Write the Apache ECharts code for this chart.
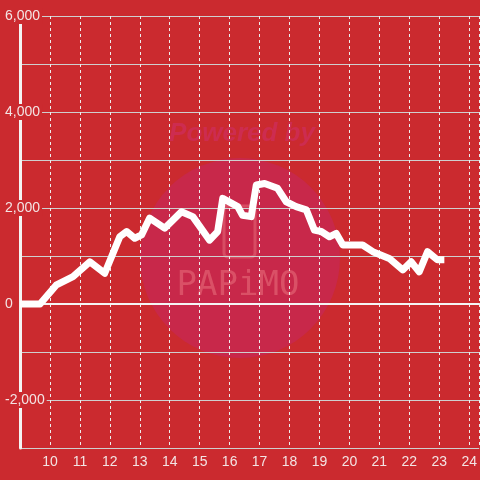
<!DOCTYPE html>
<html><head><meta charset="utf-8">
<script src="https://cdn.jsdelivr.net/npm/echarts@6/dist/echarts.min.js"></script>
<style>html,body{margin:0;padding:0;background:#cb2a2f}#c{width:480px;height:480px}</style>
</head><body><div id="c"></div>
<script>
const times = [9.0, 9.67, 10.22, 10.77, 11.33, 11.83, 12.33, 12.56, 12.83, 13.06, 13.33, 13.83, 14.39, 14.77, 15.33, 15.6, 15.77, 16.27, 16.43, 16.72, 16.89, 17.17, 17.6, 17.89, 18.22, 18.56, 18.83, 19.06, 19.33, 19.56, 19.78, 20.44, 20.78, 21.33, 21.78, 22.06, 22.33, 22.61, 22.94, 23.17];
const values = [0, 0, 400, 570, 880, 640, 1400, 1510, 1370, 1440, 1790, 1580, 1920, 1820, 1330, 1510, 2200, 2030, 1850, 1820, 2480, 2510, 2410, 2130, 2030, 1960, 1540, 1510, 1400, 1470, 1230, 1230, 1090, 950, 710, 880, 670, 1090, 920, 920];
const yTickLabels = {6000:'6,000', 4000:'4,000', 2000:'2,000', 0:'0', '-2000':'-2,000'};

const bg = '#cb2a2f';
const txt = '#f3e4e4';
const chart = echarts.init(document.getElementById('c'));
chart.setOption({
  backgroundColor: bg,
  animation: false,
  grid: {left: 20, right: 0, top: 16, bottom: 32},
  xAxis: {
    type: 'value', min: 9, max: 9 + 460/30, interval: 1,
    axisLine: {onZero: true, lineStyle: {color: '#f4f4f4', width: 2}},
    axisTick: {show: false},
    axisLabel: {
      showMinLabel: false, showMaxLabel: false,
      color: txt, fontSize: 14, fontFamily: 'Liberation Sans, Arial, sans-serif', margin: 7,
      formatter: v => (Math.abs(v - Math.round(v)) < 1e-6 && v > 9) ? String(Math.round(v)) : ''
    },
    splitLine: {show: true, lineStyle: {color: '#eeeeee', width: 1, type: [3, 3]}}
  },
  yAxis: {
    type: 'value', min: -3000, max: 6000, interval: 1000,
    axisLine: {show: true, onZero: false, lineStyle: {color: '#f4f4f4', width: 3}},
    axisTick: {show: false},
    axisLabel: {
      color: txt, fontSize: 14, fontFamily: 'Liberation Sans, Arial, sans-serif', margin: 15, align: 'left',
      backgroundColor: bg, padding: [1, 2, 1, 0],
      formatter: v => yTickLabels[String(v)] !== undefined ? yTickLabels[String(v)] : ''
    },
    splitLine: {show: true, lineStyle: {color: '#cfcfcf', width: 1}}
  },
  graphic: [
    {type: 'circle', z: -10, shape: {cx: 240, cy: 258, r: 100}, style: {fill: '#c8284a'}},
    {type: 'text', z: -10, x: 242, y: 134, style: {text: 'Powered by', font: 'italic bold 26px Liberation Sans, Arial, sans-serif', fill: '#cd2c50', align: 'center', verticalAlign: 'middle'}},
    {type: 'rect', z: -10, shape: {x: 224, y: 206, width: 31, height: 51, r: 4}, style: {fill: 'none', stroke: 'rgba(235,120,130,0.45)', lineWidth: 3}},
    {type: 'text', z: -10, x: 238, y: 286, style: {text: 'PAPiMO', font: '34px DejaVu Sans Mono, monospace', fill: 'rgba(235,120,130,0.5)', align: 'center', verticalAlign: 'middle'}}
  ],
  series: [{
    type: 'line', data: times.map((t, i) => [t, values[i]]),
    showSymbol: false, symbol: 'none',
    lineStyle: {color: '#ffffff', width: 7, join: 'round'}
  }]
});
</script></body></html>
